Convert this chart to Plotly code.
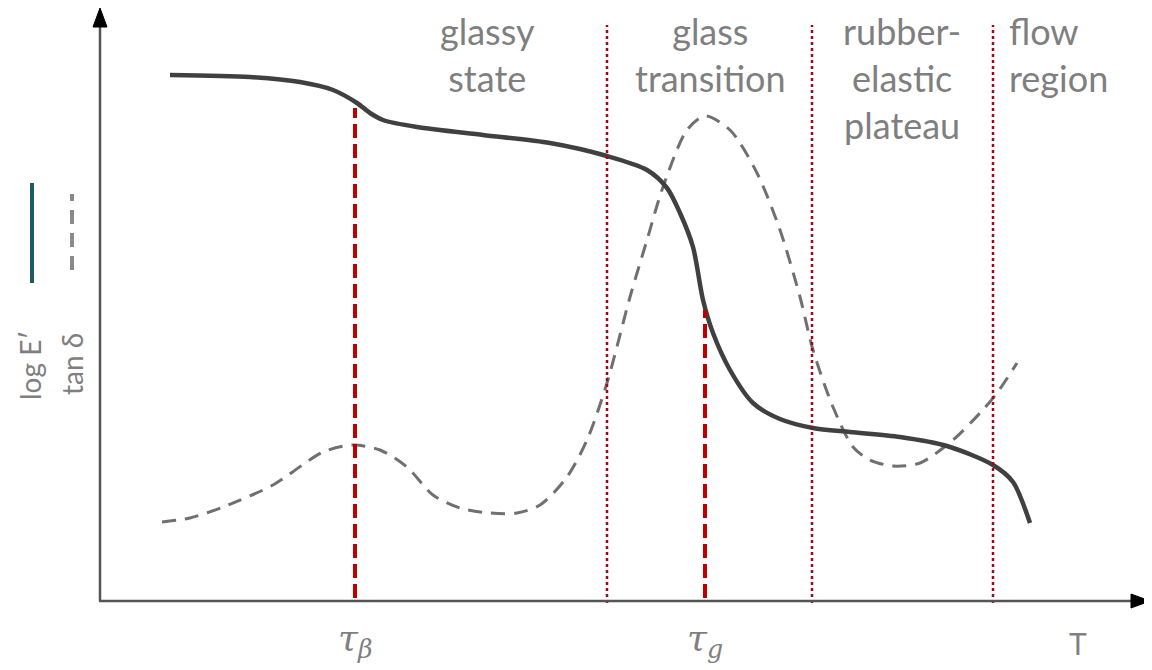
import plotly.graph_objects as go

# ---- data (schematic units: x = temperature position, y = height above T axis) ----
T_logE = [170, 250, 300, 333, 357, 370, 383, 417, 483, 550, 607, 647, 667, 680, 693, 703,
          713, 730, 753, 780, 813, 850, 900, 947, 993, 1013, 1030]
logE_py = [75, 77, 82, 90, 103, 113, 120, 127, 135, 143, 156, 170, 188, 213, 247, 300,
           333, 370, 403, 419, 428, 432, 437, 446, 465, 482, 523]

T_tan = [162, 190, 223, 273, 323, 353, 380, 407, 433, 460, 490, 517, 540, 567, 587, 607, 630,
         647, 663, 687, 705, 730, 757, 780, 800, 813, 833, 853, 870, 893, 920, 953, 980, 997, 1017]
tan_py = [522, 518, 507, 485, 452, 445, 450, 467, 495, 508, 513, 513, 505, 477, 440, 383, 297,
          240, 187, 130, 116, 130, 173, 230, 297, 350, 407, 447, 460, 466, 463, 440, 413, 393, 363]

BASE = 600  # pixel row of the T axis
logE = [BASE - v for v in logE_py]
tand = [BASE - v for v in tan_py]

transition_T = [355, 705]            # tau_beta, tau_g
transition_top = [BASE - 108, BASE - 310]
region_bounds = [607, 812, 993]
region_labels = ["glassy<br>state", "glass<br>transition", "rubber-<br>elastic<br>plateau", "flow<br>region"]
region_label_x = [487, 710, 902, 1008]
tick_labels = ["<i>τ</i><sub><i>β</i></sub>", "<i>τ</i><sub><i>g</i></sub>"]

GRAY = "#7f7f7f"
DARK = "#404040"
OFF = 8  # page body margin compensation

fig = go.Figure()

fig.add_trace(go.Scatter(x=T_tan, y=tand, mode="lines",
                         line=dict(color="#707070", width=3, dash="14px,9px", shape="spline", smoothing=0.8),
                         hoverinfo="skip"))
fig.add_trace(go.Scatter(x=T_logE, y=logE, mode="lines",
                         line=dict(color=DARK, width=4.5, shape="spline", smoothing=0.8), hoverinfo="skip"))

shapes = []
for xb in region_bounds:
    shapes.append(dict(type="line", x0=xb, x1=xb, y0=-3, y1=BASE - 25, xref="x", yref="y",
                       line=dict(color="#9b0a1a", width=2.5, dash="dot")))
for xt, yt in zip(transition_T, transition_top):
    shapes.append(dict(type="line", x0=xt, x1=xt, y0=2, y1=yt, xref="x", yref="y",
                       line=dict(color="#c00000", width=4, dash="14px,6px")))
shapes.append(dict(type="line", x0=100, x1=100, y0=-1, y1=BASE - 22, xref="x", yref="y", line=dict(color="#555555", width=2.5)))
shapes.append(dict(type="line", x0=99, x1=1136, y0=-1, y1=-1, xref="x", yref="y", line=dict(color="#555555", width=2.5)))
shapes.append(dict(type="path", path=f"M 93 {BASE-27} L 107 {BASE-27} L 100 {BASE-8} Z", xref="x", yref="y",
                   fillcolor="black", line=dict(color="black", width=1)))
shapes.append(dict(type="path", path="M 1131 6 L 1131 -8 L 1150 -1 Z", xref="x", yref="y",
                   fillcolor="black", line=dict(color="black", width=1)))
shapes.append(dict(type="line", x0=32, x1=32, y0=BASE - 283, y1=BASE - 183, xref="x", yref="y", line=dict(color="#1f5a64", width=4)))
shapes.append(dict(type="line", x0=72, x1=72, y0=BASE - 270, y1=BASE - 194, xref="x", yref="y",
                   line=dict(color="#8a8a8a", width=4, dash="14px,9px")))

annotations = []
for txt, xl in zip(region_labels, region_label_x):
    anchor = "left" if xl > 1000 else "center"
    annotations.append(dict(x=xl, y=BASE - 12, yshift=4, text=txt, showarrow=False, xanchor=anchor, yanchor="top",
                            xref="x", yref="y", align=anchor, borderpad=0,
                            font=dict(family="Lato, Open Sans", size=36, color=GRAY)))
for txt, xt in zip(tick_labels, transition_T):
    annotations.append(dict(x=xt, y=BASE - 640, text=txt, showarrow=False, xanchor="center", yanchor="middle",
                            xref="x", yref="y", font=dict(family="DejaVu Serif", size=36, color=GRAY)))
annotations.append(dict(x=1078, y=BASE - 643, text="T", showarrow=False, xref="x", yref="y",
                        font=dict(family="Lato, Open Sans", size=30, color=GRAY)))
annotations.append(dict(x=30, y=BASE - 366, text="log E′", showarrow=False, textangle=-90, xref="x", yref="y",
                        font=dict(family="Lato, Open Sans", size=28, color=GRAY)))
annotations.append(dict(x=72, y=BASE - 364, text="tan δ", showarrow=False, textangle=-90, xref="x", yref="y",
                        font=dict(family="Lato, Open Sans", size=28, color=GRAY)))

fig.update_layout(
    width=1152, height=670, margin=dict(l=0, r=0, t=0, b=0),
    paper_bgcolor="white", plot_bgcolor="white", showlegend=False,
    xaxis=dict(range=[OFF, 1152 + OFF], visible=False, fixedrange=True),
    yaxis=dict(range=[BASE - OFF - 670, BASE - OFF], visible=False, fixedrange=True),
    shapes=shapes, annotations=annotations,
)

fig.write_html("out.html")
